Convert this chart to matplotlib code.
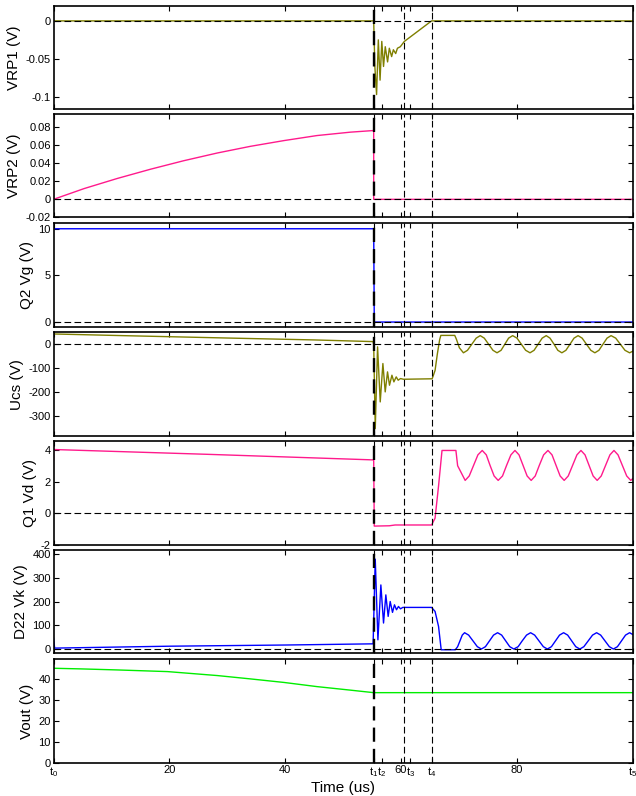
import matplotlib
matplotlib.use("Agg")
import matplotlib.pyplot as plt

plt.rcParams['font.family'] = ['Liberation Sans', 'DejaVu Sans']
plt.rcParams['mathtext.default'] = 'regular'
plt.rcParams['axes.unicode_minus'] = False

# instantes marcados (us)
t1 = 55.3
t2 = 56.7
t3 = 60.6
t4 = 65.3
t5 = 100.0

# la etiqueta t3 queda un poco a la derecha de su linea, como en la figura
x_ticks = [0, 20, 40, t1, t2, 60, 61.6, t4, 80, t5]
x_ticklabels = ['$t_0$', '20', '40', '$t_1$', '$t_2$', '60', '$t_3$', '$t_4$', '80', '$t_5$']

# VRP1
t_vrp1 = [0, 55.3, 55.5, 55.8, 56.1, 56.4, 56.7, 57.0, 57.3, 57.7, 58.0, 58.4,
          58.7, 59.1, 59.4, 59.9, 60.6, 65.3, 100]
vrp1 = [0, 0, -0.06, -0.097, -0.025, -0.078, -0.027, -0.060, -0.034, -0.054,
        -0.036, -0.047, -0.038, -0.043, -0.036, -0.034, -0.027, 0, 0]

# VRP2
t_vrp2 = [0, 0, 5.3, 11.0, 16.8, 22.5, 28.3, 34.0, 39.8, 45.5, 51.3, 55.3, 55.3, 100]
vrp2 = [0.1, 0, 0.012, 0.0232, 0.0336, 0.043, 0.0516, 0.059, 0.0654, 0.071,
        0.0748, 0.0766, 0, 0]

# Q2 Vg
t_vg = [0, 55.3, 55.4, 100]
vg = [10, 10, 0, 0]

# Ucs
t_ucs = [0, 12, 30, 45, 55.2, 55.3, 55.57, 55.97, 56.43, 56.89, 57.29, 57.69,
         58.03, 58.45, 58.79, 59.19, 59.53, 59.93, 60.45, 65.4, 65.9, 66.3,
         66.7, 66.9, 69.3, 69.6, 70.1, 70.8,
         71.5, 72.25, 73.0, 73.7, 74.4, 75.15, 75.9, 76.6, 77.3, 77.95, 78.6,
         79.3, 80.05, 80.8, 81.55, 82.3, 83.0, 83.7, 84.4, 85.1, 85.75, 86.45,
         87.1, 87.8, 88.5, 89.2, 89.9, 90.6, 91.3, 92.05, 92.8, 93.5, 94.2,
         94.9, 95.6, 96.3, 97.1, 97.9, 98.7, 99.5, 100]
ucs = [43, 36, 26, 18, 11, 0, -354, -11, -242, -81, -200, -116,
       -172, -130, -158, -137, -151, -144, -147, -145, -110, -40,
       20, 37, 37, 20, -15, -36,
       -25.5, 0, 25.5, 36, 25.5, 0, -25.5, -36, -25.5, 0, 25.5,
       36, 25.5, 0, -25.5, -36, -25.5, 0, 25.5, 36, 25.5, 0,
       -25.5, -36, -25.5, 0, 25.5, 36, 25.5, 0, -25.5, -36, -25.5,
       0, 25.5, 36, 25.5, 0, -25.5, -36, -30]

# Q1 Vd
t_vd = [0, 0, 27, 55.3, 55.4, 58, 59, 65.3, 65.9, 66.5, 67.1, 69.5, 69.8,
        71.1, 71.8, 72.55, 73.3, 74.05, 74.75, 75.4, 76.1, 76.8, 77.55, 78.25,
        79.0, 79.7, 80.4, 81.1, 81.8, 82.5, 83.2, 83.9, 84.65, 85.4, 86.1,
        86.8, 87.5, 88.2, 88.9, 89.65, 90.4, 91.1, 91.8, 92.5, 93.2, 93.9,
        94.6, 95.35, 96.1, 96.8, 97.5, 98.25, 99.0, 99.7, 100]
vd = [3.38, 4.06, 3.75, 3.40, -0.80, -0.78, -0.73, -0.73, -0.30, 1.74, 4.0, 4.0, 3.03,
      2.10, 2.38, 3.05, 3.72, 4.00, 3.72, 3.05, 2.38, 2.10, 2.38, 3.05,
      3.72, 4.00, 3.72, 3.05, 2.38, 2.10, 2.38, 3.05, 3.72, 4.00, 3.72,
      3.05, 2.38, 2.10, 2.38, 3.05, 3.72, 4.00, 3.72, 3.05, 2.38, 2.10,
      2.38, 3.05, 3.72, 4.00, 3.72, 3.05, 2.38, 2.10, 2.20]

# D22 Vk
t_vk = [0, 0.2, 20, 40, 55.2, 55.57, 56.03, 56.54, 57.0, 57.4, 57.8, 58.15,
        58.55, 58.89, 59.24, 59.58, 59.93, 60.33, 65.3, 65.9, 66.5, 66.96,
        69.4, 69.8, 70.2, 70.6, 71.0, 71.7, 72.45, 73.2, 73.9, 74.6, 75.3,
        76.0, 76.7, 77.4, 78.1, 78.8, 79.5, 80.25, 80.95, 81.7, 82.4, 83.1,
        83.85, 84.6, 85.3, 86.0, 86.7, 87.4, 88.1, 88.8, 89.5, 90.2, 90.9,
        91.6, 92.35, 93.1, 93.8, 94.5, 95.25, 96.0, 96.7, 97.4, 98.1, 98.8,
        99.5, 100]
vk = [46, 4, 12, 17, 22, 380, 39, 271, 110, 229, 138, 201,
      155, 187, 166, 180, 170, 176, 176, 159, 96, -3,
      -3, 10, 34.5, 59, 69, 59, 34.5, 10, 0, 10, 34.5,
      59, 69, 59, 34.5, 10, 0, 10, 34.5, 59, 69, 59,
      34.5, 10, 0, 10, 34.5, 59, 69, 59, 34.5, 10, 0,
      10, 34.5, 59, 69, 59, 34.5, 10, 0, 10, 34.5, 59,
      69, 62]

# Vout
t_vout = [0, 4.7, 11, 19.7, 28.3, 34.0, 39.8, 45.5, 51.3, 55.3, 100]
vout = [45.3, 45.0, 44.5, 43.7, 41.8, 40.2, 38.5, 36.5, 34.8, 33.6, 33.6]

olivo = '#7f7f00'
rosa = '#ff1a8c'
azul = '#0000ff'
verde = '#00ee00'

paneles = [
    (t_vrp1, vrp1, olivo, 'VRP1 (V)', (-0.116, 0.02), [-0.1, -0.05, 0], ['-0.1', '-0.05', '0']),
    (t_vrp2, vrp2, rosa, 'VRP2 (V)', (-0.02, 0.095), [-0.02, 0, 0.02, 0.04, 0.06, 0.08],
     ['-0.02', '0', '0.02', '0.04', '0.06', '0.08']),
    (t_vg, vg, azul, 'Q2 Vg (V)', (-0.5, 10.65), [0, 5, 10], ['0', '5', '10']),
    (t_ucs, ucs, olivo, 'Ucs (V)', (-385, 50), [-300, -200, -100, 0], ['-300', '-200', '-100', '0']),
    (t_vd, vd, rosa, 'Q1 Vd (V)', (-2, 4.6), [-2, 0, 2, 4], ['-2', '0', '2', '4']),
    (t_vk, vk, azul, 'D22 Vk (V)', (-18, 420), [0, 100, 200, 300, 400], ['0', '100', '200', '300', '400']),
    (t_vout, vout, verde, 'Vout (V)', (0, 49.6), [0, 10, 20, 30, 40], ['0', '10', '20', '30', '40']),
]

# posiciones de los ejes en pixeles (arriba, abajo)
cajas = [(5.7, 109), (114, 217.3), (222.7, 326.7), (332.3, 436), (441, 545), (549.7, 653.3), (659.3, 762.7)]

W, H = 636, 796
fig = plt.figure(figsize=(W / 100, H / 100), dpi=100)

guion = (0, (6, 3))
for i, (tt, yy, col, etiq, lim, yt, ytl) in enumerate(paneles):
    arriba, abajo = cajas[i]
    ax = fig.add_axes([53.5 / W, 1 - abajo / H, 579 / W, (abajo - arriba) / H])
    ax.plot(tt, yy, color=col, lw=1.0, zorder=2)
    if i < 6:
        ax.axhline(0, color='k', ls=guion, lw=0.8, zorder=3)
    ax.axvline(t1, color='k', ls=guion, lw=1.7, zorder=3)
    for tv in (t3, t4):
        ax.axvline(tv, color='k', ls=guion, lw=0.8, zorder=3)
    ax.set_xlim(0, 100)
    ax.set_ylim(*lim)
    ax.set_yticks(yt)
    ax.set_yticklabels(ytl)
    ax.set_xticks(x_ticks)
    if i == 6:
        ax.set_xticklabels(x_ticklabels)
        ax.set_xlabel('Time (us)', fontsize=11, labelpad=1)
    else:
        ax.set_xticklabels([])
    ax.set_ylabel(etiq, fontsize=11, labelpad=3)
    ax.tick_params(direction='in', top=True, right=True, length=3.5, width=0.8, labelsize=8, pad=2)
    for s in ax.spines.values():
        s.set_linewidth(1.2)

fig.savefig('out.png', dpi=100)
